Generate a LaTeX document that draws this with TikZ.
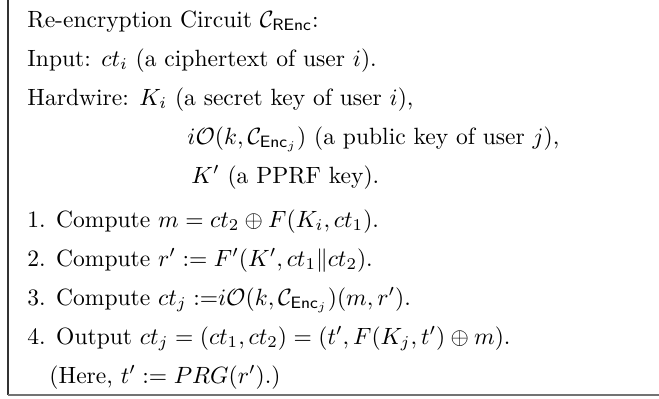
\documentclass[tikz,border=0pt]{standalone}
\usepackage{amsmath,amssymb}
\begin{document}
\begin{tikzpicture}[x=0.425pt,y=-0.425pt,line/.style={anchor=base west,inner sep=0pt,font=\fontsize{10}{12}\selectfont}]
	\useasboundingbox (0,0) rectangle (659,398);
	\draw[black!80,line width=0.45pt] (8,0) -- (8,395);
	\draw[black!55,line width=0.85pt] (8,395) -- (659,395);
	\node (title) at ( 27,  27)	[line]	{Re-encryption Circuit $\mathcal{C}_{\mathsf{REnc}}$:};
	\node (input) at ( 27,  66)	[line]	{Input: $ct_i$ (a ciphertext of user $i$).};
	\node (hw1) at ( 27, 105)	[line]	{Hardwire: $K_i$ (a secret key of user $i$),};
	\node (hw2) at (187, 144)	[line]	{$i\mathcal{O}(k,\mathcal{C}_{\mathsf{Enc}_j})$ (a public key of user $j$),};
	\node (hw3) at (191, 183)	[line]	{$K'$ (a PPRF key).};
	\node (s1) at ( 27, 227)	[line]	{1. Compute $m = ct_2 \oplus F(K_i,ct_1)$.};
	\node (s2) at ( 27, 266)	[line]	{2. Compute $r' := F'(K',ct_1\|ct_2)$.};
	\node (s3) at ( 27, 305)	[line]	{3. Compute $ct_j :=\mskip-\thickmuskip i\mathcal{O}(k,\mathcal{C}_{\mathsf{Enc}_j})(m,r')$.};
	\node (s4) at ( 27, 344)	[line]	{4. Output $ct_j = (ct_1,ct_2) = (t',F(K_j,t') \oplus m)$.};
	\node (here) at ( 49, 383)	[line]	{(Here, $t' := PRG(r')$.)};
\end{tikzpicture}
\end{document}
